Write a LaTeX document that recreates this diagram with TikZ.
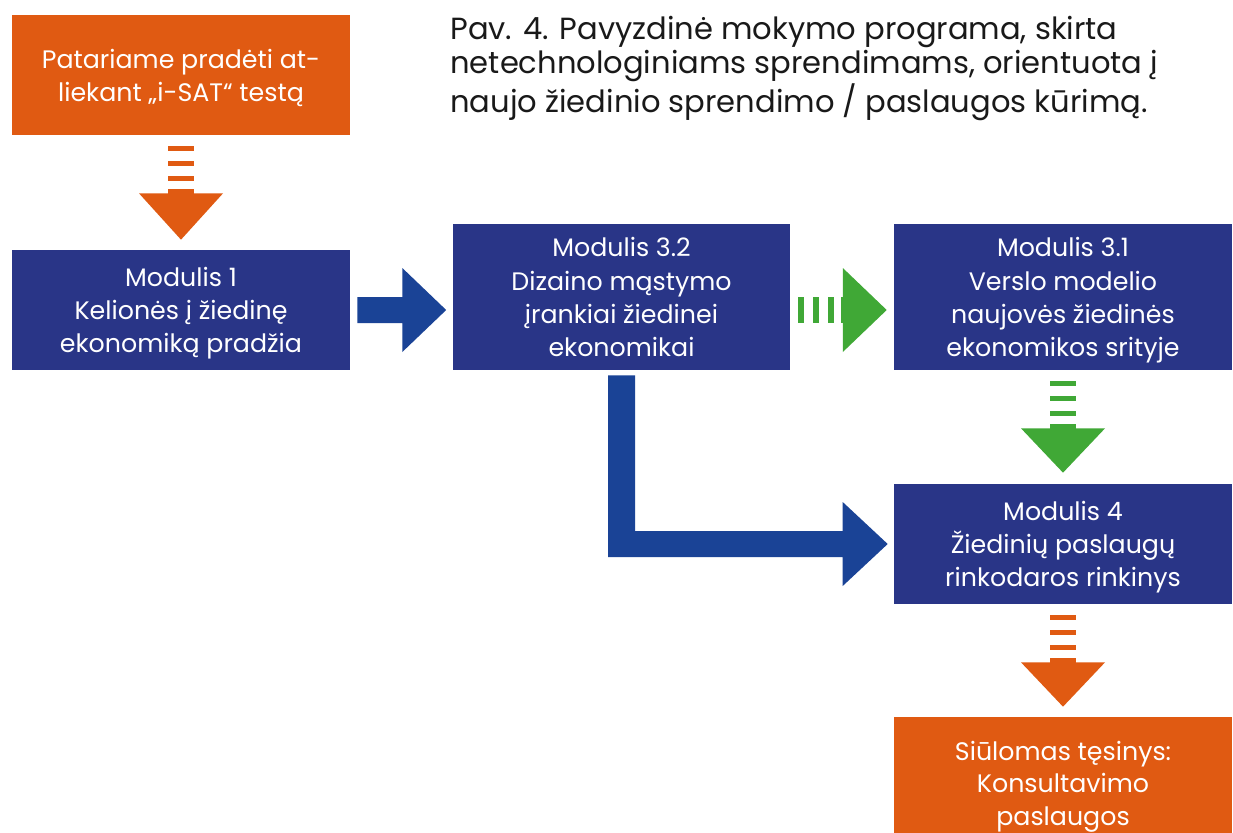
\documentclass[tikz,border=0pt]{standalone}
\usepackage{fontspec}
\setmainfont{Poppins}
\usetikzlibrary{calc}
\definecolor{isatorange}{RGB}{224,90,18}
\definecolor{modblue}{RGB}{41,53,135}
\definecolor{arrowblue}{RGB}{26,67,150}
\definecolor{arrowgreen}{RGB}{64,168,54}
\tikzset{
  modbox/.style={fill=modblue,text=white,minimum width=6.76cm,minimum height=2.4cm,
    inner sep=0pt,align=center,font=\fontsize{14.4}{18.9}\selectfont,text depth=-2.5pt},
  tallbox/.style={modbox,minimum height=2.92cm},
  orangebox/.style={modbox,fill=isatorange},
  caption/.style={inner sep=0pt,align=left,text=black!90,font=\fontsize{17.4}{19.3}\selectfont}
}
\begin{document}
\begin{tikzpicture}[x=.02cm,y=-.02cm]
		\clip (0,0) rectangle (1233,832);
		\fill[white] (0,0) rectangle (1233,832);
		
		\node[orangebox] (test) at (181,75) {Patariame pradėti at-\\liekant „i-SAT“ testą};
		\node[modbox] (m1) at (181,310) {Modulis 1\\Kelionės į žiedinę\\ekonomiką pradžia};
		\node[tallbox] (m32) at (621.5,297) {Modulis 3.2\\Dizaino mąstymo\\įrankiai žiedinei\\ekonomikai};
		\node[tallbox] (m31) at (1063,297) {Modulis 3.1\\Verslo modelio\\naujovės žiedinės\\ekonomikos srityje};
		\node[modbox] (m4) at (1063,544) {Modulis 4\\Žiedinių paslaugų\\rinkodaros rinkinys};
		\node[orangebox,minimum height=2.64cm,font=\fontsize{14.4}{18.5}\selectfont] (cons) at (1063,783) {Siūlomas tęsinys:\\Konsultavimo\\paslaugos};
		\node[caption,anchor=north west] (cap) at (450,16) {Pav. 4. Pavyzdinė mokymo programa, skirta\\netechnologiniams sprendimams, orientuota į\\naujo žiedinio sprendimo / paslaugos kūrimą.};
		
		% test -> m1
		\fill[isatorange] ($(test.south)+(-13,11)$) rectangle ($(test.south)+(13,16)$);
		\fill[isatorange] ($(test.south)+(-13,26)$) rectangle ($(test.south)+(13,31)$);
		\fill[isatorange] ($(test.south)+(-13,41)$) rectangle ($(test.south)+(13,46)$);
		\fill[isatorange] ($(test.south)+(-13,54)$) rectangle ($(test.south)+(13,59)$);
		\fill[isatorange] ($(test.south)+(-42,58)$) -- ($(test.south)+(42,58)$) -- ($(m1.north)+(0,-10)$) -- cycle;
		
		% m1 -> m32
		\fill[arrowblue] ($(m1.east)+(7,-13)$) -- ($(m1.east)+(52,-13)$) -- ($(m1.east)+(52,-42)$) -- ($(m32.west |- m1.east)+(-6,0)$)
		  -- ($(m1.east)+(52,42)$) -- ($(m1.east)+(52,13)$) -- ($(m1.east)+(7,13)$) -- cycle;
		
		% m32 -> m31
		\coordinate (g) at (m32.east |- m1.east);
		\fill[arrowgreen] ($(g)+(7,-13)$) rectangle ($(g)+(13,13)$);
		\fill[arrowgreen] ($(g)+(22,-13)$) rectangle ($(g)+(28,13)$);
		\fill[arrowgreen] ($(g)+(37,-13)$) rectangle ($(g)+(43,13)$);
		\fill[arrowgreen] ($(g)+(50,-13)$) rectangle ($(g)+(53,13)$);
		\fill[arrowgreen] ($(g)+(52,-42)$) -- ($(m31.west |- g)+(-7,0)$) -- ($(g)+(52,42)$) -- cycle;
		
		% m31 -> m4
		\fill[arrowgreen] ($(m31.south)+(-13,11)$) rectangle ($(m31.south)+(13,16)$);
		\fill[arrowgreen] ($(m31.south)+(-13,26)$) rectangle ($(m31.south)+(13,31)$);
		\fill[arrowgreen] ($(m31.south)+(-13,41)$) rectangle ($(m31.south)+(13,46)$);
		\fill[arrowgreen] ($(m31.south)+(-13,54)$) rectangle ($(m31.south)+(13,59)$);
		\fill[arrowgreen] ($(m31.south)+(-42,58)$) -- ($(m31.south)+(42,58)$) -- ($(m4.north)+(0,-11)$) -- cycle;
		
		% m32 -> m4
		\fill[arrowblue] ($(m32.south)+(-13.5,5)$) -- ($(m32.south)+(13.5,5)$) |- ($(m4.west)+(-51,-13)$) -- ($(m4.west)+(-51,-42)$)
		  -- ($(m4.west)+(-6,0)$) -- ($(m4.west)+(-51,42)$) -- ($(m4.west)+(-51,13)$) -| ($(m32.south)+(-13.5,5)$) -- cycle;
		
		% m4 -> cons
		\fill[isatorange] ($(m4.south)+(-13,11)$) rectangle ($(m4.south)+(13,16)$);
		\fill[isatorange] ($(m4.south)+(-13,26)$) rectangle ($(m4.south)+(13,31)$);
		\fill[isatorange] ($(m4.south)+(-13,41)$) rectangle ($(m4.south)+(13,46)$);
		\fill[isatorange] ($(m4.south)+(-13,54)$) rectangle ($(m4.south)+(13,59)$);
		\fill[isatorange] ($(m4.south)+(-42,58)$) -- ($(m4.south)+(42,58)$) -- ($(cons.north)+(0,-10)$) -- cycle;
\end{tikzpicture}
\end{document}
